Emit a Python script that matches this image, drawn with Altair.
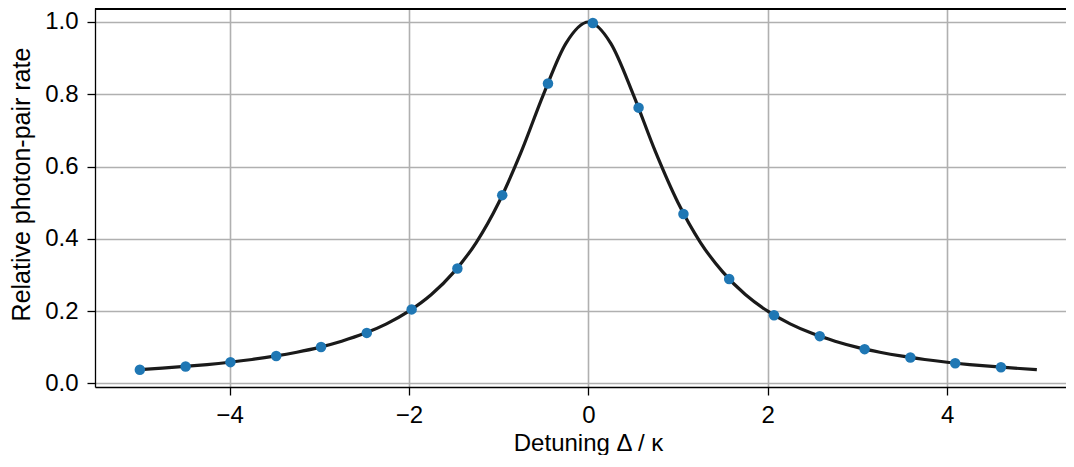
import altair as alt
import pandas as pd

# Measured points (Detuning Δ/κ, relative rate)
pt_x = [-5.0, -4.49, -3.99, -3.48, -2.98, -2.47, -1.97, -1.46, -0.96, -0.45,
        0.05, 0.56, 1.06, 1.57, 2.07, 2.58, 3.08, 3.59, 4.09, 4.6]
pt_y = [0.038, 0.047, 0.059, 0.076, 0.101, 0.140, 0.205, 0.318, 0.521, 0.830,
        0.997, 0.763, 0.469, 0.289, 0.189, 0.131, 0.095, 0.072, 0.056, 0.045]

# Model curve
curve_x = [-5.0, -4.75, -4.5, -4.25, -4.0, -3.75, -3.5, -3.25, -3.0, -2.75,
           -2.5, -2.25, -2.0, -1.75, -1.5, -1.25, -1.0, -0.75, -0.5, -0.25,
           0.0, 0.25, 0.5, 0.75, 1.0, 1.25, 1.5, 1.75, 2.0, 2.25,
           2.5, 2.75, 3.0, 3.25, 3.5, 3.75, 4.0, 4.25, 4.5, 4.75, 5.0]
curve_y = [0.0385, 0.0425, 0.0471, 0.0524, 0.0588, 0.0664, 0.0755, 0.0865, 0.100, 0.117,
           0.138, 0.165, 0.200, 0.246, 0.308, 0.390, 0.500, 0.640, 0.800, 0.941,
           1.000, 0.941, 0.800, 0.640, 0.500, 0.390, 0.308, 0.246, 0.200, 0.165,
           0.138, 0.117, 0.100, 0.0865, 0.0755, 0.0664, 0.0588, 0.0524, 0.0471, 0.0425, 0.0385]

x_ticks = [-4, -2, 0, 2, 4]
y_ticks = [0.0, 0.2, 0.4, 0.6, 0.8, 1.0]

pts = pd.DataFrame({"x": pt_x, "y": pt_y})
crv = pd.DataFrame({"x": curve_x, "y": curve_y})

W, H = 971, 379
FONT = "Liberation Sans"
FS = 24

xscale = alt.Scale(domain=[-5.5, 5.325], nice=False, zero=False)
yscale = alt.Scale(domain=[-0.0097, 1.0387], nice=False, zero=False)

xaxis = alt.Axis(
    values=x_ticks, title="Detuning Δ / κ",
    labelExpr="datum.value < 0 ? '\u2212' + format(-datum.value, 'd') : format(datum.value, 'd')",
    grid=True, gridColor="#b0b0b0", gridWidth=1.6,
    domainColor="#000000", domainWidth=1.3,
    tickColor="#000000", tickWidth=1.3, tickSize=8,
    labelPadding=8, titlePadding=4,
    titleX=493, titleAlign="center",
)
yaxis = alt.Axis(
    values=y_ticks, format=".1f", title="Relative photon-pair rate",
    grid=True, gridColor="#b0b0b0", gridWidth=1.6,
    domainColor="#000000", domainWidth=1.3,
    tickColor="#000000", tickWidth=1.3, tickSize=8,
    labelPadding=9, titleFontSize=25,
    titleX=-66, titleY=176, titleBaseline="alphabetic", titleAlign="center",
)

line = alt.Chart(crv).mark_line(color="#1a1a1a", strokeWidth=3.2, interpolate="monotone").encode(
    x=alt.X("x:Q", scale=xscale, axis=xaxis),
    y=alt.Y("y:Q", scale=yscale, axis=yaxis),
)
dots = alt.Chart(pts).mark_circle(color="#1f77b4", opacity=1, size=110).encode(
    x=alt.X("x:Q", scale=xscale),
    y=alt.Y("y:Q", scale=yscale),
)
top = alt.Chart(pts).mark_rule(color="#000000", strokeWidth=1.3).encode(
    x=alt.value(0), x2=alt.value(W), y=alt.value(0.6)
)

chart = alt.layer(line, dots, top).properties(
    width=W, height=H,
    autosize=alt.AutoSizeParams(type="none"),
    padding={"left": 87, "top": 0, "right": 0, "bottom": 68},
).configure_view(stroke=None).configure_axis(
    labelFont=FONT, titleFont=FONT, labelFontSize=FS, titleFontSize=FS,
    labelColor="#000000", titleColor="#000000", titleFontWeight="normal",
)

chart.save("out.html", embed_options={"renderer": "svg", "actions": False})
